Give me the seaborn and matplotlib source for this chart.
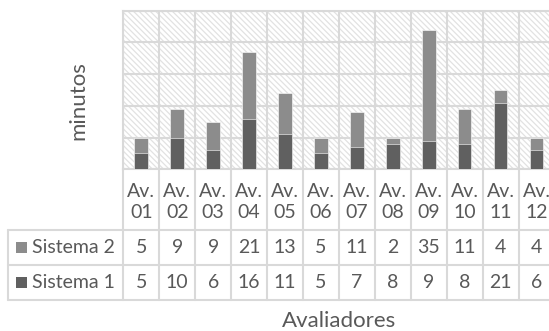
import numpy as np
import pandas as pd
import matplotlib
matplotlib.use("Agg")
import matplotlib.pyplot as plt
from matplotlib.patches import Rectangle
from matplotlib.lines import Line2D
import seaborn as sns

# Data
avaliadores = ["Av.\n01", "Av.\n02", "Av.\n03", "Av.\n04", "Av.\n05", "Av.\n06",
               "Av.\n07", "Av.\n08", "Av.\n09", "Av.\n10", "Av.\n11", "Av.\n12"]
sistema_1 = [5, 10, 6, 16, 11, 5, 7, 8, 9, 8, 21, 6]
sistema_2 = [5, 9, 9, 21, 13, 5, 11, 2, 35, 11, 4, 4]
series_names = ["Sistema 2", "Sistema 1"]
y_ticks = [0, 10, 20, 30, 40, 50]

sns.set_theme(style="white")
plt.rcParams["font.family"] = ["Lato", "DejaVu Sans"]
plt.rcParams["hatch.linewidth"] = 0.9

DARK = "#606060"
LIGHT = "#8c8c8c"
GRID = "#d9d9d9"
TEXT = "#595959"
TABLE_FS = 14
TITLE_FS = 16

W, H = 549, 331
fig = plt.figure(figsize=(W / 100, H / 100), dpi=100)


def fx(px):
    return px / W


def fy(py):
    return 1 - py / H


# plot area (extends slightly past the right edge of the canvas)
left, right, top, bottom = 123.3, 554.5, 10.7, 169.3
ax = fig.add_axes([fx(left), fy(bottom), fx(right - left), (bottom - top) / H])

df = pd.DataFrame({
    "avaliador": avaliadores,
    "s1": sistema_1,
    "total": np.array(sistema_1) + np.array(sistema_2),
})

# hatched background
bg = Rectangle((0, 0), 1, 1, transform=ax.transAxes, facecolor="white",
               edgecolor="#e2e2e2", hatch="\\" * 6, linewidth=0, zorder=0)
ax.add_patch(bg)

sns.barplot(data=df, x="avaliador", y="total", color=LIGHT, width=0.38,
            saturation=1, ax=ax, zorder=3, edgecolor="white", linewidth=0.4)
sns.barplot(data=df, x="avaliador", y="s1", color=DARK, width=0.38,
            saturation=1, ax=ax, zorder=4, edgecolor="white", linewidth=0.4)

n = len(avaliadores)
ax.set_xlim(-0.5, n - 0.5)
ax.set_ylim(y_ticks[0], y_ticks[-1])
ax.set_yticks(y_ticks)
ax.set_xticks(np.arange(-0.5, n, 1))
ax.tick_params(labelbottom=False, labelleft=False, length=0)
ax.grid(True, color=GRID, linewidth=1.5, zorder=1)
ax.set_axisbelow(False)
for gl in ax.get_xgridlines() + ax.get_ygridlines():
    gl.set_zorder(1)
for sp in ax.spines.values():
    sp.set_color(GRID)
    sp.set_linewidth(1.5)
    sp.set_zorder(1)
ax.set_xlabel("")
ax.set_ylabel("")

# y axis title
fig.text(fx(78), fy(101), "minutos", rotation=90, ha="center", va="center",
         fontsize=TITLE_FS, color=TEXT)

# data table below the plot
col_w = (right - left) / n
hdr_bot, row1_bot, row2_bot = 230, 265, 300
tbl_left = 8


def hline(y, x0, x1):
    fig.add_artist(Line2D([fx(x0), fx(x1)], [fy(y), fy(y)], color=GRID, lw=1.5))


def vline(x, y0, y1):
    fig.add_artist(Line2D([fx(x), fx(x)], [fy(y0), fy(y1)], color=GRID, lw=1.5))


hline(hdr_bot, tbl_left, right)
hline(row1_bot, tbl_left, right)
hline(row2_bot, tbl_left, right)
vline(tbl_left, hdr_bot, row2_bot)
for i in range(n + 1):
    vline(left + i * col_w, bottom, row2_bot)

for i, lab in enumerate(avaliadores):
    cx = left + (i + 0.5) * col_w
    fig.text(fx(cx), fy((bottom + hdr_bot) / 2 + 2), lab, ha="center", va="center",
             fontsize=TABLE_FS, color=TEXT, linespacing=1.3)
    fig.text(fx(cx), fy((hdr_bot + row1_bot) / 2), str(sistema_2[i]),
             ha="center", va="center", fontsize=TABLE_FS, color=TEXT)
    fig.text(fx(cx), fy((row1_bot + row2_bot) / 2), str(sistema_1[i]),
             ha="center", va="center", fontsize=TABLE_FS, color=TEXT)

for name, color, (y0, y1) in zip(series_names, [LIGHT, DARK],
                                 [(hdr_bot, row1_bot), (row1_bot, row2_bot)]):
    cy = (y0 + y1) / 2
    fig.add_artist(Rectangle((fx(16), fy(cy + 5.5)), fx(11), 11 / H,
                             facecolor=color, edgecolor="none"))
    fig.text(fx(32), fy(cy), name, ha="left", va="center",
             fontsize=TABLE_FS, color=TEXT)

# x axis title
fig.text(fx((left + right) / 2), fy(321), "Avaliadores", ha="center",
         va="center", fontsize=TITLE_FS, color=TEXT)

fig.savefig("out.png", dpi=100)
